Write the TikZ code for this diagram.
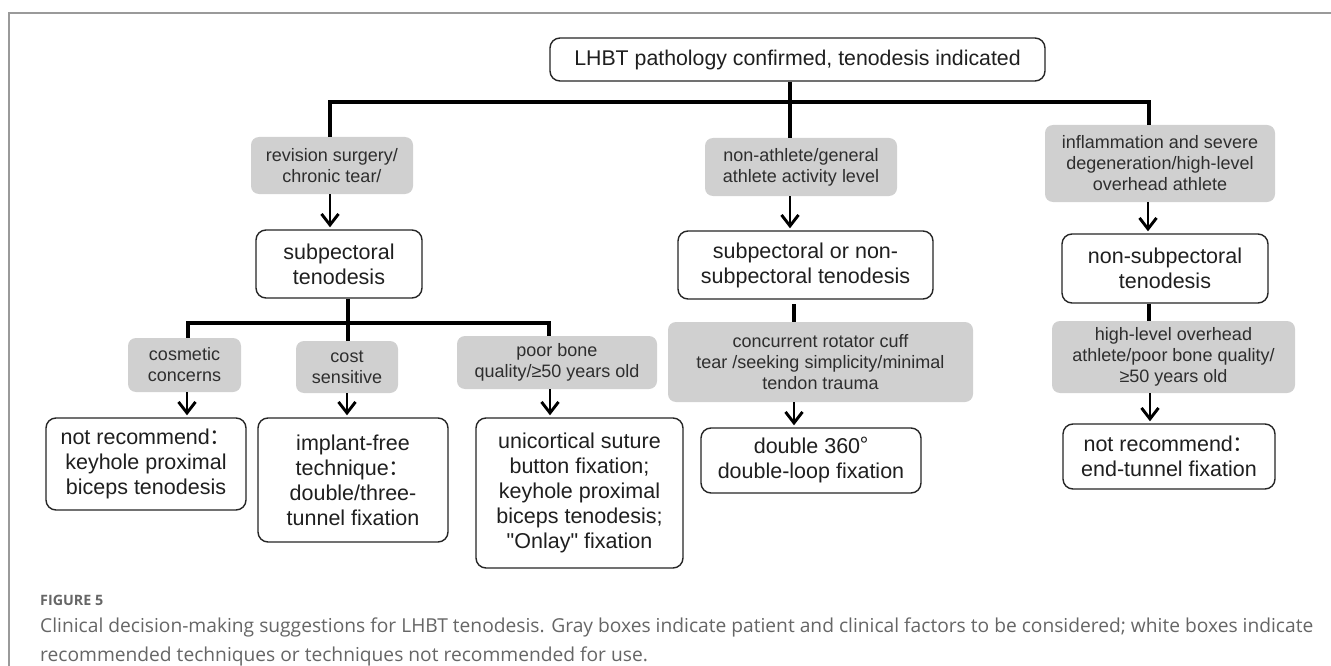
\documentclass[tikz,border=0pt]{standalone}
\usepackage{graphicx}
\usepackage{fontspec}
\setmainfont{Liberation Sans}
\newfontfamily\cjk{Noto Sans CJK SC}
\newfontfamily\capfont{Open Sans}
\usetikzlibrary{arrows.meta}
\definecolor{boxgray}{HTML}{D0D0D0}
\definecolor{txtgray}{HTML}{2E2E2E}
\definecolor{capgray}{HTML}{666666}
\definecolor{framegray}{HTML}{9A9A9A}
\newcommand{\sq}{{\XeTeXglyph\XeTeXcharglyph"22\relax}}
\begin{document}
\begin{tikzpicture}[x=1pt,y=-1pt,
  wbox/.style={draw=black!85, line width=1.4pt, rounded corners=10pt, fill=white, align=center, inner sep=0pt, font=\fontsize{21.5}{25}\selectfont, text=black!88},
  gbox/.style={fill=boxgray, rounded corners=8pt, align=center, inner sep=0pt, font=\fontsize{18}{21}\selectfont, text=txtgray},
  conn/.style={line width=3.1pt, black},
  arr/.style={line width=2.9pt, black, -{Straight Barb[length=11pt,width=17pt]}, shorten >=2pt}]
\useasboundingbox (0,0) rectangle (1331,666);
\fill[white] (0,0) rectangle (1331,666);
% frame
\coordinate (fb) at (9,666);
\coordinate (fc) at (9,13);
\coordinate (fr) at (1331,13);
\draw[framegray, line width=1.2pt] (fb) -- (fc) -- (fr);

% level 0
\node[wbox, font=\fontsize{21.3}{25}\selectfont, minimum width=495pt, minimum height=43pt] (top) at (797.5,59.5) {LHBT pathology confirmed, tenodesis indicated};

% level 1 factors
\node[gbox, minimum width=162pt, minimum height=57pt] (g1) at (332,165.5) {revision surgery/\\chronic tear/};
\node[gbox, minimum width=192pt, minimum height=58pt] (g2) at (801,167) {non-athlete/general\\athlete activity level};
\node[gbox, minimum width=230pt, minimum height=77pt] (g3) at (1160,163.5) {inflammation and severe\\degeneration/high-level\\overhead athlete};

% level 1 techniques
\node[wbox, minimum width=166pt, minimum height=68pt] (w1) at (339,264) {subpectoral\\tenodesis};
\node[wbox, minimum width=255pt, minimum height=68pt] (w2) at (805.5,265) {subpectoral or non-\\subpectoral tenodesis};
\node[wbox, minimum width=206pt, minimum height=69pt] (w3) at (1165,268.5) {non-subpectoral\\tenodesis};

% level 2 factors
\node[gbox, minimum width=113pt, minimum height=54pt] (g4) at (184.5,365) {cosmetic\\concerns};
\node[gbox, minimum width=102pt, minimum height=52pt] (g5) at (347,367) {cost\\sensitive};
\node[gbox, minimum width=200pt, minimum height=53pt] (g6) at (557,362.5) {poor bone\\quality/≥50 years old};
\node[gbox, minimum width=305pt, minimum height=80pt] (g7) at (820.5,362) {concurrent rotator cuff\\tear /seeking simplicity/minimal\\tendon trauma};
\node[gbox, minimum width=243pt, minimum height=72pt] (g8) at (1173.5,357) {high-level overhead\\athlete/poor bone quality/\\≥50 years old};

% level 2 techniques
\node[wbox, minimum width=200pt, minimum height=92pt] (w4) at (146,464) {not recommend{\cjk ：}\\keyhole proximal\\biceps tenodesis};
\node[wbox, minimum width=190pt, minimum height=124pt] (w5) at (353,480) {implant-free\\technique{\cjk ：}\\double/three-\\tunnel fixation};
\node[wbox, minimum width=207pt, minimum height=150pt] (w6) at (579.5,493) {unicortical suture\\button fixation;\\keyhole proximal\\biceps tenodesis;\\\sq Onlay\sq{} fixation};
\node[wbox, minimum width=220pt, minimum height=65pt] (w7) at (811,460.5) {double 360{\cjk °}\\double-loop fixation};
\node[wbox, minimum width=212pt, minimum height=65pt] (w8) at (1169,456.5) {not recommend{\cjk ：}\\end-tunnel fixation};

% connectors level 0 -> 1
\coordinate (hL) at (330,102);
\coordinate (hM) at (790,102);
\coordinate (hR) at (1149,102);
\draw[conn] (top.south -| hM) -- (hM);
\draw[conn, line cap=rect] (hL) -- (hR);
\draw[conn] (hL) -- (g1.north -| hL);
\draw[conn] (hM) -- (g2.north -| hM);
\draw[conn] (hR) -- (g3.north -| hR);
\draw[arr] (g1.south -| hL) -- (w1.north -| hL);
\draw[arr] (g2.south -| hM) -- (w2.north -| hM);
\coordinate (aR) at (1148,0);
\draw[arr] (g3.south -| aR) -- (w3.north -| aR);

% left subtree
\coordinate (sA) at (188,323);
\coordinate (sB) at (348,323);
\coordinate (sC) at (549,323);
\draw[conn] (w1.south -| sB) -- (sB);
\draw[conn, line cap=rect] (sA) -- (sC);
\draw[conn] (sA) -- (g4.north -| sA);
\draw[conn] (sB) -- (g5.north -| sB);
\draw[conn] (sC) -- (g6.north -| sC);
\coordinate (a4) at (187,0);
\coordinate (a5) at (347,0);
\coordinate (a6) at (550,0);
\draw[arr] (g4.south -| a4) -- (w4.north -| a4);
\draw[arr] (g5.south -| a5) -- (w5.north -| a5);
\draw[arr] (g6.south -| a6) -- (w6.north -| a6);

% middle subtree
\coordinate (m1) at (794,304);
\draw[conn] (m1) -- (g7.north -| m1);
\draw[arr] (g7.south -| m1) -- (w7.north -| m1);

% right subtree
\coordinate (r1) at (1149,0);
\draw[conn] (w3.south -| r1) -- (g8.north -| r1);
\coordinate (r2) at (1150,0);
\draw[arr] (g8.south -| r2) -- (w8.north -| r2);

% caption
\node[anchor=west, inner sep=0pt, text=capgray] (fig) at (40,600) {\resizebox{63pt}{!}{\capfont\bfseries FIGURE 5}};
\node[anchor=north west, inner sep=0pt, text=capgray] (cap) at (40,613) {\resizebox{1273pt}{!}{\capfont\fontsize{17}{25}\selectfont\begin{tabular}{@{}l@{}}Clinical decision-making suggestions for LHBT tenodesis. Gray boxes indicate patient and clinical factors to be considered; white boxes indicate\\recommended techniques or techniques not recommended for use.\end{tabular}}};
\end{tikzpicture}
\end{document}
